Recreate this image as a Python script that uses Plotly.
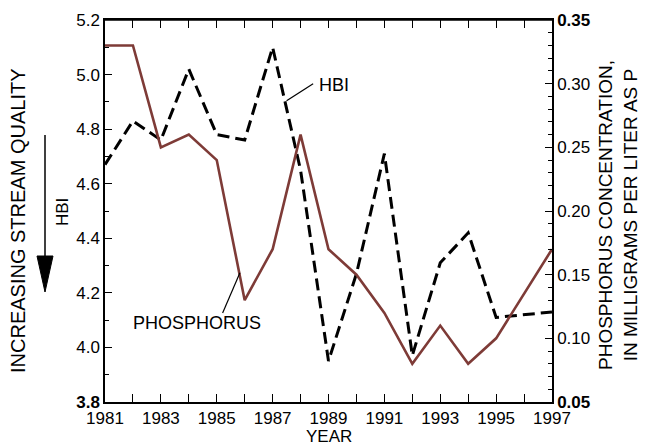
import plotly.graph_objects as go

years = [1981, 1982, 1983, 1984, 1985, 1986, 1987, 1988, 1989, 1990, 1991, 1992, 1993, 1994, 1995, 1996, 1997]
hbi = [4.67, 4.83, 4.76, 5.02, 4.78, 4.76, 5.10, 4.65, 3.95, 4.27, 4.71, 3.97, 4.31, 4.42, 4.11, 4.12, 4.13]
phosphorus = [0.33, 0.33, 0.25, 0.26, 0.24, 0.13, 0.17, 0.26, 0.17, 0.15, 0.12, 0.08, 0.11, 0.08, 0.10, 0.135, 0.17]

x_ticks = [1981, 1983, 1985, 1987, 1989, 1991, 1993, 1995, 1997]
y_ticks = [3.8, 4.0, 4.2, 4.4, 4.6, 4.8, 5.0, 5.2]
y_ticktext = ["<b>3.8</b>", "4.0", "4.2", "4.4", "4.6", "4.8", "5.0", "5.2"]
y2_ticks = [0.05, 0.10, 0.15, 0.20, 0.25, 0.30, 0.35]
y2_ticktext = ["<b>0.05</b>", "0.10", "0.15", "0.20", "0.25", "0.30", "<b>0.35</b>"]

FONT = "Liberation Sans, Arial, sans-serif"
W, H = 654, 445
L, R, T, B = 105, 102, 20, 43
PW, PH = W - L - R, H - T - B

def px(xp):
    return (xp - L) / PW

def py(yp):
    return (H - B - yp) / PH

fig = go.Figure()
fig.add_trace(go.Scatter(x=years, y=hbi, mode="lines", name="HBI",
                         line=dict(color="black", width=3, dash="12px,6px"),
                         showlegend=False))
fig.add_trace(go.Scatter(x=years, y=phosphorus, mode="lines", name="PHOSPHORUS",
                         line=dict(color="#7e3b37", width=2.6), yaxis="y2",
                         showlegend=False))

axis_common = dict(showgrid=False, zeroline=False, showline=True, linecolor="black",
                   linewidth=1.5, ticks="inside", tickcolor="black", tickwidth=1.2,
                   tickfont=dict(family=FONT, size=17, color="black"))

fig.update_layout(
    width=W, height=H,
    margin=dict(l=L, r=R, t=T, b=B, autoexpand=False),
    plot_bgcolor="white", paper_bgcolor="white",
    font=dict(family=FONT, size=17, color="black"),
    xaxis=dict(range=[1981, 1997], tickvals=x_ticks, ticklen=8, mirror="allticks",
               minor=dict(dtick=1, tick0=1981, ticklen=5, ticks="inside", tickcolor="black", tickwidth=1.2),
               **axis_common),
    yaxis=dict(range=[3.8, 5.2], tickvals=y_ticks, ticktext=y_ticktext, ticklen=7,
               minor=dict(dtick=0.1, tick0=3.8, ticklen=4, ticks="inside", tickcolor="black", tickwidth=1.2),
               **axis_common),
    yaxis2=dict(range=[0.05, 0.35], tickvals=y2_ticks, ticktext=y2_ticktext, ticklen=7,
                overlaying="y", side="right",
                minor=dict(dtick=0.01, tick0=0.05, ticklen=4, ticks="inside", tickcolor="black", tickwidth=1.2),
                **axis_common),
)

annotations = [
    dict(text="INCREASING STREAM QUALITY", textangle=-90, xref="paper", yref="paper",
         x=px(18), y=py(221), xanchor="center", yanchor="middle", showarrow=False,
         font=dict(family=FONT, size=20)),
    dict(text="HBI", textangle=-90, xref="paper", yref="paper",
         x=px(62), y=py(212), xanchor="center", yanchor="middle", showarrow=False,
         font=dict(family=FONT, size=17)),
    dict(text="PHOSPHORUS CONCENTRATION,<br>IN MILLIGRAMS PER LITER AS P", textangle=-90,
         xref="paper", yref="paper", x=px(618), y=py(215), xanchor="center", yanchor="middle",
         showarrow=False, font=dict(family=FONT, size=19)),
    dict(text="YEAR", xref="paper", yref="paper", x=0.5, y=py(436), xanchor="center",
         yanchor="middle", showarrow=False, font=dict(family=FONT, size=17)),
    dict(text="HBI", xref="x", yref="y", x=1988.6, y=4.962, xanchor="left", yanchor="middle",
         showarrow=False, font=dict(family=FONT, size=18)),
    dict(text="PHOSPHORUS", xref="x", yref="y", x=1984.31, y=4.091, xanchor="center",
         yanchor="middle", showarrow=False, font=dict(family=FONT, size=18)),
]
fig.update_layout(annotations=annotations)

shapes = [
    dict(type="line", xref="paper", yref="paper", x0=0, y0=1, x1=1, y1=1,
         line=dict(color="black", width=1.5), layer="above"),
    dict(type="line", xref="x", yref="y", x0=1987.50, y0=4.904, x1=1988.45, y1=4.966,
         line=dict(color="black", width=1.2)),
    dict(type="line", xref="x", yref="y", x0=1985.21, y0=4.126, x1=1985.83, y1=4.274,
         line=dict(color="black", width=1.2)),
    dict(type="line", xref="paper", yref="paper", x0=px(45), y0=py(135), x1=px(45), y1=py(262),
         line=dict(color="black", width=1.5)),
    dict(type="path", xref="paper", yref="paper",
         path=f"M {px(37)} {py(256)} L {px(53)} {py(256)} L {px(45)} {py(292)} Z",
         fillcolor="black", line=dict(color="black", width=1)),
]
fig.update_layout(shapes=shapes)

fig.write_html("out.html", config={"displayModeBar": False},
               post_script="document.body.style.margin='0px';")
